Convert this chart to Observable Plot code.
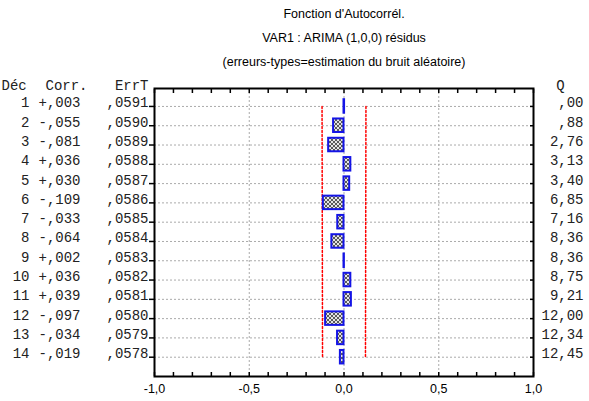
<!DOCTYPE html>
<html>
<head>
<meta charset="utf-8">
<script src="https://cdn.jsdelivr.net/npm/d3@7"></script>
<script src="https://cdn.jsdelivr.net/npm/@observablehq/plot@0.6"></script>
<style>
  html, body { margin: 0; padding: 0; background: white; }
  svg { display: block; }
</style>
</head>
<body>
<div id="chart"></div>
<script>
const titleLines = ["Fonction d'Autocorrél.", "VAR1 : ARIMA (1,0,0) résidus", "(erreurs-types=estimation du bruit aléatoire)"];
const headers = ["Déc", "Corr.", "ErrT", "Q"];
const lags = [1, 2, 3, 4, 5, 6, 7, 8, 9, 10, 11, 12, 13, 14];
const corr = [0.003, -0.055, -0.081, 0.036, 0.030, -0.109, -0.033, -0.064, 0.002, 0.036, 0.039, -0.097, -0.034, -0.019];
const errT = [0.0591, 0.0590, 0.0589, 0.0588, 0.0587, 0.0586, 0.0585, 0.0584, 0.0583, 0.0582, 0.0581, 0.0580, 0.0579, 0.0578];
const qStat = [0.00, 0.88, 2.76, 3.13, 3.40, 6.85, 7.16, 8.36, 8.36, 8.75, 9.21, 12.00, 12.34, 12.45];
const xTicks = [-1, -0.5, 0, 0.5, 1];
const xTickLabels = ["-1,0", "-0,5", "0,0", "0,5", "1,0"];
const xMinorTicks = d3.range(-10, 11).map(d => d / 10);
const gridX = [-0.5, 0, 0.5];
const zLimit = 1.96;

const rows = lags.map((lag, i) => ({lag, corr: corr[i], se: errT[i], q: qStat[i]}));
const fmtCorr = v => (v >= 0 ? "+" : "-") + "," + Math.abs(v).toFixed(3).slice(2);
const fmtSe = v => "," + v.toFixed(4).slice(2);
const fmtQ = v => { const s = v.toFixed(2).replace(".", ","); return s.startsWith("0,") ? s.slice(1) : s; };
const limits = rows.flatMap(r => [{lag: r.lag, x: -zLimit * r.se, side: "lo"}, {lag: r.lag, x: zLimit * r.se, side: "hi"}]);

const mono = "Liberation Mono, Courier New, monospace";
const monoSize = 14;
const monoFill = "#222";
const sans = "Liberation Sans, Arial, sans-serif";

const chart = Plot.plot({
  width: 589,
  height: 401,
  marginLeft: 154,
  marginRight: 56,
  marginTop: 88,
  marginBottom: 25,
  style: {fontFamily: sans, fontSize: "12.5px", background: "white", color: "black"},
  x: {domain: [-1, 1], axis: null},
  y: {domain: [0.07, 15.0], reverse: true, axis: null},
  marks: [
    Plot.ruleY(lags, {stroke: "#aaa", strokeDasharray: "2,2", strokeWidth: 1}),
    Plot.ruleX(gridX, {stroke: "#aaa", strokeDasharray: "2,2", strokeWidth: 1}),
    Plot.line(limits, {x: "x", y: "lag", z: "side", stroke: "#ff0000", strokeWidth: 1.5, strokeDasharray: "2,2"}),
    Plot.rect(rows, {x1: 0, x2: "corr", y1: d => d.lag - 0.35, y2: d => d.lag + 0.35, fill: "url(#hatch)", stroke: "#1414e6", strokeWidth: 2}),
    Plot.axisX({anchor: "bottom", ticks: xMinorTicks, tickSize: -4, tickFormat: () => "", label: null, strokeWidth: 1.5}),
    Plot.axisX({anchor: "top", ticks: xMinorTicks, tickSize: -4, tickFormat: () => "", label: null, strokeWidth: 1.5}),
    Plot.axisX({anchor: "bottom", ticks: xTicks, tickSize: 0, tickPadding: 8, tickFormat: d => xTickLabels[xTicks.indexOf(d)], label: null, fontSize: 12.5}),
    Plot.axisY({anchor: "left", ticks: lags, tickSize: 5, tickFormat: () => "", label: null, strokeWidth: 1.5}),
    Plot.axisY({anchor: "right", ticks: lags, tickSize: -4, tickFormat: () => "", label: null, strokeWidth: 1.5}),
    Plot.frame({stroke: "black", strokeWidth: 2}),
    // left table
    Plot.text(rows, {y: "lag", frameAnchor: "left", dx: -125, dy: 1, lineAnchor: "bottom", textAnchor: "end", text: d => String(d.lag), fontFamily: mono, fontSize: monoSize, fill: monoFill}),
    Plot.text(rows, {y: "lag", frameAnchor: "left", dx: -74, dy: 1, lineAnchor: "bottom", textAnchor: "end", text: d => fmtCorr(d.corr), fontFamily: mono, fontSize: monoSize, fill: monoFill}),
    Plot.text(rows, {y: "lag", frameAnchor: "left", dx: -6, dy: 1, lineAnchor: "bottom", textAnchor: "end", text: d => fmtSe(d.se), fontFamily: mono, fontSize: monoSize, fill: monoFill}),
    Plot.text(rows, {y: "lag", frameAnchor: "right", dx: 50, dy: 1, lineAnchor: "bottom", textAnchor: "end", text: d => fmtQ(d.q), fontFamily: mono, fontSize: monoSize, fill: monoFill}),
    Plot.text([headers[0]], {frameAnchor: "top-left", dx: -153, dy: 1, lineAnchor: "bottom", textAnchor: "start", fontFamily: mono, fontSize: monoSize, fill: monoFill}),
    Plot.text([headers[1]], {frameAnchor: "top-left", dx: -67, dy: 1, lineAnchor: "bottom", textAnchor: "end", fontFamily: mono, fontSize: monoSize, fill: monoFill}),
    Plot.text([headers[2]], {frameAnchor: "top-left", dx: -6, dy: 1, lineAnchor: "bottom", textAnchor: "end", fontFamily: mono, fontSize: monoSize, fill: monoFill}),
    Plot.text([headers[3]], {frameAnchor: "top-right", dx: 27, dy: 1, lineAnchor: "bottom", textAnchor: "middle", fontFamily: mono, fontSize: monoSize, fill: monoFill}),
    // titles
    Plot.text([titleLines[0]], {frameAnchor: "top", dy: -71, lineAnchor: "bottom", fontFamily: sans, fontSize: 12.5}),
    Plot.text([titleLines[1]], {frameAnchor: "top", dy: -47, lineAnchor: "bottom", fontFamily: sans, fontSize: 12.5}),
    Plot.text([titleLines[2]], {frameAnchor: "top", dy: -23, lineAnchor: "bottom", fontFamily: sans, fontSize: 12.5})
  ]
});

const defs = d3.select(chart).insert("defs", ":first-child");
const pat = defs.append("pattern").attr("id", "hatch").attr("patternUnits", "userSpaceOnUse").attr("width", 4).attr("height", 4);
pat.append("rect").attr("width", 4).attr("height", 4).attr("fill", "#e4e4e4");
pat.append("path").attr("d", "M0,0L4,4M4,0L0,4").attr("stroke", "#5a5a5a").attr("stroke-width", 1);

document.getElementById("chart").appendChild(chart);
</script>
</body>
</html>
